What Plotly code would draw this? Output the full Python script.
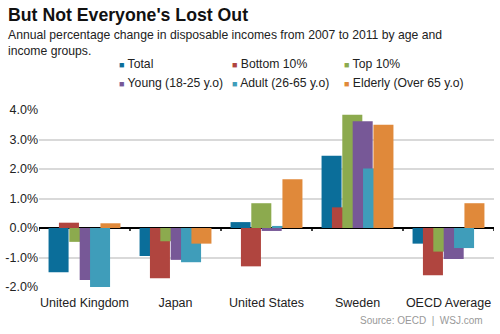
import plotly.graph_objects as go

categories = ["United Kingdom", "Japan", "United States", "Sweden", "OECD Average"]
series_names = ["Total", "Bottom 10%", "Top 10%", "Young (18-25 y.o)", "Adult (26-65 y.o)", "Elderly (Over 65 y.o)"]
total = [-1.5, -0.95, 0.2, 2.45, -0.53]
bottom10 = [0.18, -1.7, -1.3, 0.7, -1.6]
top10 = [-0.47, -0.45, 0.84, 3.84, -0.8]
young = [-1.76, -1.08, -0.1, 3.62, -1.05]
adult = [-2.0, -1.16, 0.07, 2.02, -0.68]
elderly = [0.16, -0.53, 1.65, 3.5, 0.84]
y_ticks = [-2, -1, 0, 1, 2, 3, 4]
y_tick_labels = ["-2.0%", "-1.0%", "0.0%", "1.0%", "2.0%", "3.0%", "4.0%"]

series = [total, bottom10, top10, young, adult, elderly]
colors = ["#0B6E9A", "#B0453F", "#8CAA4E", "#775897", "#3F9DBA", "#E0893A"]

FONT = "Liberation Sans, Arial, sans-serif"
W, H = 500, 334
ML, MR, MT, MB = 39, 6, 110, 47
PW, PH = W - ML - MR, H - MT - MB


def px_x(p):
    return (p - ML) / PW


def px_y(p):
    return (H - MB - p) / PH


fig = go.Figure()

bar_w = 0.22
step = 0.114
start = -0.395
for i, (name, vals, col) in enumerate(zip(series_names, series, colors)):
    fig.add_trace(go.Bar(
        x=categories, y=vals, name=name, marker=dict(color=col, line=dict(width=0)),
        width=bar_w, offset=start + i * step, showlegend=False,
    ))

# small tick marks on zero line at category boundaries
for k in range(len(categories) + 1):
    fig.add_shape(type="line", xref="x", yref="y", x0=k - 0.5, x1=k - 0.5,
                  y0=0, y1=-0.1, line=dict(color="#000000", width=1.5))

fig.update_layout(
    width=W, height=H,
    margin=dict(l=ML, r=MR, t=MT, b=MB),
    paper_bgcolor="white", plot_bgcolor="white",
    barmode="overlay",
    font=dict(family=FONT, color="#222222", size=12.5),
    showlegend=False,
    xaxis=dict(
        type="category", showgrid=False, showline=False, ticks="",
        tickfont=dict(size=12.5, family=FONT, color="#222222"),
        range=[-0.5, len(categories) - 0.5], ticklabelstandoff=6,
    ),
    yaxis=dict(
        range=[-2, 4], tickvals=y_ticks, ticktext=y_tick_labels,
        showgrid=True, gridcolor="#D9D9D9", gridwidth=1.5,
        zeroline=True, zerolinecolor="#000000", zerolinewidth=1.5,
        showline=False, ticks="",
        tickfont=dict(size=12.5, family=FONT, color="#222222"),
    ),
)

# legend (two rows of three), built from the series names and colours
leg_x = [117, 230, 342]
leg_y = [64, 83]
for i, (name, col) in enumerate(zip(series_names, colors)):
    fig.add_annotation(
        text=f'<span style="color:{col};font-size:9px">■</span> {name}',
        xref="paper", yref="paper", x=px_x(leg_x[i % 3]), y=px_y(leg_y[i // 3]),
        xanchor="left", yanchor="middle", showarrow=False,
        font=dict(size=12.2, family=FONT, color="#222222"))

fig.add_annotation(text="<b>But Not Everyone's Lost Out</b>", xref="paper", yref="paper",
                   x=px_x(6), y=px_y(15), xanchor="left", yanchor="middle", showarrow=False,
                   font=dict(size=17.7, family=FONT, color="#111111"))
fig.add_annotation(text="Annual percentage change in disposable incomes from 2007 to 2011 by age and<br>income groups.",
                   xref="paper", yref="paper", x=px_x(6), y=px_y(26), xanchor="left", yanchor="top",
                   showarrow=False, align="left", font=dict(size=12.2, family=FONT, color="#222222"))
fig.add_annotation(text="Source: OECD  |  WSJ.com", xref="paper", yref="paper", x=px_x(485), y=px_y(320),
                   xanchor="right", yanchor="middle", showarrow=False,
                   font=dict(size=10, family=FONT, color="#999999"))

fig.write_html("out.html")
